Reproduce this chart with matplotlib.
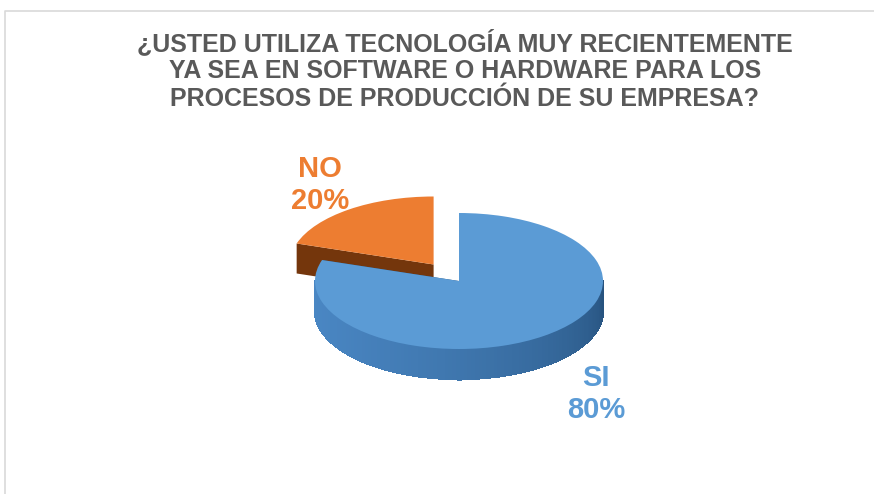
import numpy as np
import matplotlib
matplotlib.use("Agg")
import matplotlib.pyplot as plt
from matplotlib.patches import Polygon
from matplotlib.colors import to_rgb

labels = ["SI", "NO"]
values = [80, 20]
top_colors = ["#5b9bd5", "#ed7d31"]
side_dark = ["#27537f", "#74360c"]
side_light = ["#4a87c4", "#8f4515"]
explode = [0, 0.3]
title = ("¿USTED UTILIZA TECNOLOGÍA MUY RECIENTEMENTE\n"
         "YA SEA EN SOFTWARE O HARDWARE PARA LOS\n"
         "PROCESOS DE PRODUCCIÓN DE SU EMPRESA?")

W, H = 874, 494
fig = plt.figure(figsize=(W / 100, H / 100), dpi=100)
fig.patch.set_facecolor("white")

# full-figure axes in pixel coords for frame + text
bg = fig.add_axes([0, 0, 1, 1])
bg.set_xlim(0, W)
bg.set_ylim(H, 0)
bg.axis("off")
bg.plot([5, 5, W], [H, 11, 11], color="#d9d9d9", lw=1.2)
bg.text(465, 70, title, ha="center", va="center", fontsize=18, fontweight="bold",
        color="#595959", family="Liberation Sans", linespacing=1.2)

# pie axes: radius 1 -> 144 px wide, 68 px tall
rx, ry = 144, 68
cx, cy = 459, 281
depth = 30 / ry
ax = fig.add_axes([(cx - 2 * rx) / W, (H - cy - 2.5 * ry) / H, 4 * rx / W, 5 * ry / H])
wedges, _ = ax.pie(values, colors=top_colors, startangle=90, counterclock=False,
                   explode=explode, radius=1)
ax.set_aspect("auto")
ax.set_xlim(-2, 2)
ax.set_ylim(-2.5, 2.5)
ax.axis("off")


def mix(c1, c2, t):
    a, b = np.array(to_rgb(c1)), np.array(to_rgb(c2))
    return a + (b - a) * t


for i, w in enumerate(wedges):
    z = 5 if i == 0 else 1
    w.set_zorder(z + 1)
    w.set_edgecolor("none")
    x0, y0 = w.center
    t1, t2 = w.theta1 % 360, w.theta2 % 360
    if t2 <= t1:
        t2 += 360
    # radial cut faces
    for t in (t1, t2):
        ex, ey = x0 + np.cos(np.radians(t)), y0 + np.sin(np.radians(t))
        face = Polygon([(x0, y0), (ex, ey), (ex, ey - depth), (x0, y0 - depth)],
                       closed=True, fc=side_dark[i], ec="none", zorder=z - 0.5)
        ax.add_patch(face)
    # outer wall, visible lower half
    for base in (0, 360):
        a0, a1 = max(t1, 180 + base), min(t2, 360 + base)
        if a1 <= a0:
            continue
        ts = np.linspace(a0, a1, 120)
        for k in range(len(ts) - 1):
            ta, tb = np.radians(ts[k]), np.radians(ts[k + 1])
            mid = ((ts[k] + ts[k + 1]) / 2) % 360
            f = np.clip((mid - 180) / 180, 0, 1) ** 1.6
            col = mix(side_light[i], side_dark[i], f)
            pts = [(x0 + np.cos(ta), y0 + np.sin(ta)), (x0 + np.cos(tb), y0 + np.sin(tb)),
                   (x0 + np.cos(tb), y0 + np.sin(tb) - depth),
                   (x0 + np.cos(ta), y0 + np.sin(ta) - depth)]
            ax.add_patch(Polygon(pts, closed=True, fc=col, ec=col, lw=1.0,
                                 antialiased=False, zorder=z))

# labels
bg.text(320, 185, "NO\n20%", ha="center", va="center", fontsize=21, fontweight="bold",
        color="#ed7d31", family="Liberation Sans", linespacing=1.2)
bg.text(596, 394, "SI\n80%", ha="center", va="center", fontsize=21, fontweight="bold",
        color="#5b9bd5", family="Liberation Sans", linespacing=1.2)

fig.savefig("out.png", dpi=100, facecolor="white")
